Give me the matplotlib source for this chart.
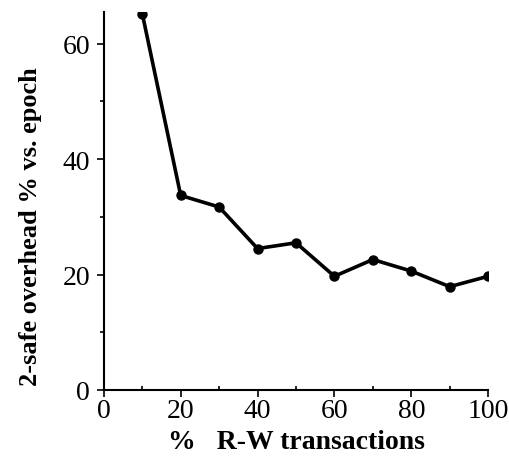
import matplotlib.pyplot as plt
from matplotlib.ticker import MultipleLocator

# data
rw_pct = [10, 20, 30, 40, 50, 60, 70, 80, 90, 100]
overhead = [65.2, 33.7, 31.7, 24.5, 25.5, 19.7, 22.6, 20.6, 17.9, 19.7]

plt.rcParams['font.family'] = ['Liberation Serif', 'DejaVu Serif']

fig = plt.figure(figsize=(5.09, 4.6), dpi=100)
ax = fig.add_axes([0.204, 0.15, 0.755, 0.822])

ax.plot(rw_pct, overhead, color='black', lw=2.6, marker='o', markersize=6.5)

ax.set_xlim(0, 100)
ax.set_ylim(0, 65.5)
ax.xaxis.set_major_locator(MultipleLocator(20))
ax.xaxis.set_minor_locator(MultipleLocator(10))
ax.yaxis.set_major_locator(MultipleLocator(20))
ax.yaxis.set_minor_locator(MultipleLocator(10))

for s in ['top', 'right']:
    ax.spines[s].set_visible(False)
ax.spines['left'].set_linewidth(1.5)
ax.spines['bottom'].set_linewidth(1.5)

ax.tick_params(axis='both', which='major', labelsize=20, length=5, width=1.2)
ax.tick_params(axis='x', which='major', pad=1)
ax.tick_params(axis='y', which='major', pad=5)
ax.tick_params(axis='y', which='minor', length=3, width=1.2, direction='out')
ax.tick_params(axis='x', which='minor', length=3, width=1.2, direction='in')

ax.set_xlabel('%   R-W transactions', fontsize=20, fontweight='bold', labelpad=4)
ax.set_ylabel('2-safe overhead % vs. epoch', fontsize=19, fontweight='bold')
ax.yaxis.set_label_coords(-0.16, 0.434)

fig.savefig('out.png', dpi=100)
plt.close()
